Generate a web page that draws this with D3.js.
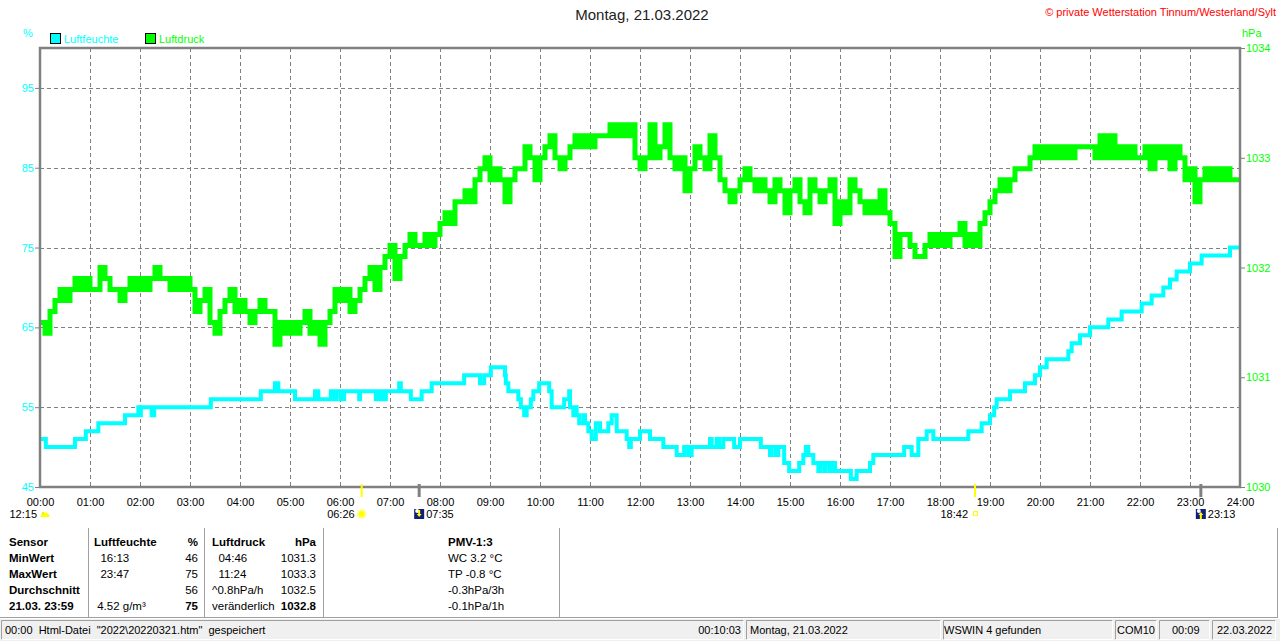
<!DOCTYPE html>
<html>
<head>
<meta charset="utf-8">
<script src="https://cdnjs.cloudflare.com/ajax/libs/d3/7.8.5/d3.min.js"></script>
<style>
	body { margin: 0 ; background: #fff ; }
	svg { display: block ; font-family: "Liberation Sans", Arial, sans-serif ; }
	.cell { white-space: pre ; }
</style>
</head>
<body>
<svg id="canvas"></svg>
<script>
	// Luftfeuchte (%), change points: minute of day -> value
	const humTime = [
		0, 7, 42, 55, 70, 102, 118, 120, 121, 134, 137, 205, 265, 282, 286, 306, 330, 334, 349, 353,
		356, 361, 365, 383, 384, 403, 406, 408, 410, 413, 415, 431, 433, 445, 458, 470, 509, 528, 533, 541,
		558, 559, 562, 574, 577, 581, 584, 589, 592, 599, 611, 614, 629, 635, 636, 640, 642, 644, 647, 652,
		654, 658, 662, 667, 672, 682, 686, 692, 704, 707, 709, 720, 732, 748, 764, 773, 778, 782, 804, 806,
		812, 815, 820, 833, 840, 865, 876, 878, 883, 886, 893, 899, 911, 916, 919, 922, 928, 934, 936, 941,
		943, 948, 950, 954, 973, 980, 996, 1000, 1037, 1046, 1054, 1064, 1072, 1114, 1130, 1140, 1145, 1148, 1164, 1182,
		1194, 1200, 1208, 1234, 1238, 1248, 1260, 1282, 1298, 1322, 1334, 1348, 1356, 1364, 1380, 1394, 1428, 1440
	] ;
	const humValue = [
		51, 50, 51, 52, 53, 54, 55, 54, 55, 54, 55, 56, 57, 58, 57, 56, 57, 56, 57, 56,
		57, 56, 57, 56, 57, 56, 57, 56, 57, 56, 57, 58, 57, 56, 57, 58, 59, 58, 59, 60,
		59, 58, 57, 56, 55, 54, 55, 56, 57, 58, 57, 55, 56, 57, 55, 54, 55, 54, 53, 54,
		53, 52, 51, 53, 52, 53, 54, 52, 51, 50, 51, 52, 51, 50, 49, 50, 49, 50, 51, 50,
		51, 50, 51, 50, 51, 50, 49, 50, 49, 50, 48, 47, 48, 49, 50, 49, 48, 47, 48, 47,
		48, 47, 48, 47, 46, 47, 48, 49, 50, 49, 51, 52, 51, 52, 53, 54, 55, 56, 57, 58,
		59, 60, 61, 62, 63, 64, 65, 66, 67, 68, 69, 70, 71, 72, 73, 74, 75, 75
	] ;

	// Luftdruck (hPa), one reading every 6 minutes, one row per hour
	const pressStep = 6 ;
	const pressValue = [
		1031.5, 1031.4, 1031.6, 1031.7, 1031.8, 1031.7, 1031.8, 1031.9, 1031.8, 1031.9,
		1031.8, 1031.8, 1032.0, 1031.9, 1031.8, 1031.8, 1031.7, 1031.8, 1031.9, 1031.8,
		1031.9, 1031.8, 1031.9, 1032.0, 1031.9, 1031.9, 1031.8, 1031.9, 1031.8, 1031.9,
		1031.8, 1031.6, 1031.7, 1031.8, 1031.5, 1031.4, 1031.6, 1031.7, 1031.8, 1031.6,
		1031.7, 1031.6, 1031.5, 1031.6, 1031.7, 1031.6, 1031.6, 1031.3, 1031.5, 1031.4,
		1031.5, 1031.4, 1031.5, 1031.6, 1031.4, 1031.5, 1031.3, 1031.5, 1031.6, 1031.8,
		1031.7, 1031.8, 1031.6, 1031.7, 1031.8, 1031.9, 1032.0, 1031.8, 1032.0, 1032.1,
		1032.2, 1031.9, 1032.1, 1032.2, 1032.3, 1032.2, 1032.2, 1032.3, 1032.2, 1032.3,
		1032.4, 1032.5, 1032.4, 1032.6, 1032.6, 1032.7, 1032.6, 1032.8, 1032.9, 1033.0,
		1032.8, 1032.9, 1032.8, 1032.6, 1032.8, 1032.9, 1032.9, 1033.1, 1033.0, 1032.8,
		1033.0, 1033.1, 1033.2, 1033.0, 1032.9, 1033.0, 1033.1, 1033.2, 1033.1, 1033.2,
		1033.1, 1033.2, 1033.2, 1033.2, 1033.3, 1033.2, 1033.3, 1033.2, 1033.3, 1033.0,
		1032.9, 1033.0, 1033.3, 1033.0, 1033.1, 1033.3, 1033.0, 1032.9, 1033.0, 1032.7,
		1032.9, 1033.1, 1033.0, 1032.9, 1033.2, 1033.0, 1032.8, 1032.7, 1032.6, 1032.7,
		1032.8, 1032.9, 1032.8, 1032.7, 1032.8, 1032.7, 1032.6, 1032.8, 1032.7, 1032.5,
		1032.7, 1032.8, 1032.6, 1032.5, 1032.8, 1032.7, 1032.6, 1032.7, 1032.8, 1032.4,
		1032.6, 1032.5, 1032.8, 1032.7, 1032.6, 1032.5, 1032.6, 1032.5, 1032.7, 1032.5,
		1032.4, 1032.1, 1032.3, 1032.3, 1032.2, 1032.1, 1032.1, 1032.2, 1032.3, 1032.2,
		1032.3, 1032.2, 1032.3, 1032.3, 1032.4, 1032.2, 1032.3, 1032.2, 1032.4, 1032.5,
		1032.6, 1032.7, 1032.8, 1032.7, 1032.8, 1032.9, 1032.9, 1032.9, 1033.0, 1033.1,
		1033.0, 1033.1, 1033.0, 1033.1, 1033.0, 1033.1, 1033.0, 1033.1, 1033.1, 1033.1,
		1033.1, 1033.0, 1033.2, 1033.0, 1033.2, 1033.0, 1033.1, 1033.0, 1033.1, 1033.0,
		1033.0, 1033.1, 1032.9, 1033.1, 1033.0, 1033.1, 1032.9, 1033.1, 1033.0, 1032.8,
		1032.9, 1032.6, 1032.8, 1032.9, 1032.8, 1032.9, 1032.8, 1032.9, 1032.8, 1032.8,
		1032.8
	] ;

	const hourLabels = d3.range( 0, 25 ).map( h => ( h < 10 ? "0" : "" ) + h + ":00" ) ;
	const humTicks = [ 45, 55, 65, 75, 85, 95 ] ;
	const pressTicks = [ 1030, 1031, 1032, 1033, 1034 ] ;

	// sun / moon times below the axis
	const eventTimes = [ "12:15", "06:26", "07:35", "18:42", "23:13" ] ;
	const eventKinds = [ "moonphase", "sunrise", "moonset", "sunset", "moonrise" ] ;

	const tableRows = [
		[ "Sensor", "Luftfeuchte", "%", "Luftdruck", "hPa", "PMV-1:3" ],
		[ "MinWert", "  16:13", "46", "  04:46", "1031.3", "WC 3.2 °C" ],
		[ "MaxWert", "  23:47", "75", "  11:24", "1033.3", "TP -0.8 °C" ],
		[ "Durchschnitt", "", "56", "^0.8hPa/h", "1032.5", "-0.3hPa/3h" ],
		[ "21.03. 23:59", " 4.52 g/m³", "75", "veränderlich", "1032.8", "-0.1hPa/1h" ]
	] ;

	const statusTexts = [ "00:00  Html-Datei  \"2022\\20220321.htm\"  gespeichert", "00:10:03", "Montag, 21.03.2022", "WSWIN 4 gefunden", "COM10", "00:09", "22.03.2022" ] ;

	let geom = { width: 1280, height: 641, left: 40, right: 1240, top: 48, bottom: 487 } ;
	let colors = { hum: "#00ffff", press: "#00ff00", grid: "#808080", frame: "#808080" } ;

	let toMin = s => +s.slice( 0, 2 ) * 60 + +s.slice( 3, 5 ) ;

	let scales = {
		x: d3.scaleLinear().domain( [ 0, 1440 ] ).range( [ geom.left, geom.right ] ),
		hum: d3.scaleLinear().domain( [ 45, 100 ] ).range( [ geom.bottom, geom.top ] ),
		press: d3.scaleLinear().domain( [ 1030, 1034 ] ).range( [ geom.bottom, geom.top ] )
	} ;

	let svg = d3.select( "svg" )
		.attr( "width", geom.width )
		.attr( "height", geom.height ) ;

	// title + header texts
	svg.append( "text" )
		.attr( "x", 642 ).attr( "y", 20 )
		.attr( "text-anchor", "middle" )
		.attr( "font-size", 15 ).attr( "fill", "#222" )
		.text( "Montag, 21.03.2022" ) ;
	svg.append( "text" )
		.attr( "x", 1276 ).attr( "y", 16 )
		.attr( "text-anchor", "end" )
		.attr( "font-size", 11 ).attr( "fill", "#ff0000" )
		.text( "© private Wetterstation Tinnum/Westerland/Sylt" ) ;
	svg.append( "text" )
		.attr( "x", 23 ).attr( "y", 37 )
		.attr( "font-size", 11 ).attr( "fill", colors.hum )
		.text( "%" ) ;
	svg.append( "text" )
		.attr( "x", 1242 ).attr( "y", 37 )
		.attr( "font-size", 11 ).attr( "fill", colors.press )
		.text( "hPa" ) ;

	let legend = [ { name: "Luftfeuchte", color: colors.hum, x: 50 }, { name: "Luftdruck", color: colors.press, x: 145 } ] ;
	let lg = svg.selectAll( "g.legend" ).data( legend ).enter().append( "g" )
		.attr( "transform", d => "translate(" + d.x + ",33)" ) ;
	lg.append( "rect" )
		.attr( "x", 0.5 ).attr( "y", 0.5 ).attr( "width", 10 ).attr( "height", 10 )
		.attr( "fill", d => d.color ).attr( "stroke", "#000" ) ;
	lg.append( "text" )
		.attr( "x", 14 ).attr( "y", 9.5 )
		.attr( "font-size", 11 ).attr( "fill", d => d.color )
		.text( d => d.name ) ;

	// grid
	let grid = svg.append( "g" )
		.attr( "stroke", colors.grid )
		.attr( "stroke-width", 1 )
		.attr( "stroke-dasharray", "4,3" ) ;
	grid.selectAll( "line.h" ).data( humTicks.slice( 1 ) ).enter().append( "line" )
		.attr( "x1", geom.left ).attr( "x2", geom.right )
		.attr( "y1", d => Math.round( scales.hum( d ) ) + 0.5 )
		.attr( "y2", d => Math.round( scales.hum( d ) ) + 0.5 ) ;
	grid.selectAll( "line.v" ).data( d3.range( 1, 24 ) ).enter().append( "line" )
		.attr( "x1", d => scales.x( d * 60 ) + 0.5 ).attr( "x2", d => scales.x( d * 60 ) + 0.5 )
		.attr( "y1", geom.top ).attr( "y2", geom.bottom ) ;

	// series
	let pressData = pressValue.map( ( v, i ) => ( { t: i * pressStep, v: v } ) ) ;
	let humData = humTime.map( ( t, i ) => ( { t: t, v: humValue[ i ] } ) ) ;

	svg.append( "path" )
		.attr( "fill", "none" )
		.attr( "stroke", colors.press )
		.attr( "stroke-width", 5 )
		.attr( "d", d3.line().curve( d3.curveStepAfter )
			.x( d => scales.x( d.t ) ).y( d => scales.press( d.v ) )( pressData ) ) ;
	svg.append( "path" )
		.attr( "fill", "none" )
		.attr( "stroke", colors.hum )
		.attr( "stroke-width", 4 )
		.attr( "d", d3.line().curve( d3.curveStepAfter )
			.x( d => scales.x( d.t ) ).y( d => scales.hum( d.v ) )( humData ) ) ;

	// frame
	svg.append( "rect" )
		.attr( "x", geom.left ).attr( "y", geom.top )
		.attr( "width", geom.right - geom.left ).attr( "height", geom.bottom - geom.top )
		.attr( "fill", "none" ).attr( "stroke", colors.frame ).attr( "stroke-width", 2.5 ) ;

	// axes
	let yl = svg.append( "g" )
		.attr( "transform", "translate(" + geom.left + ",0)" )
		.call( d3.axisLeft( scales.hum ).tickValues( humTicks ).tickSize( 5 ).tickPadding( 1 ) ) ;
	let yr = svg.append( "g" )
		.attr( "transform", "translate(" + geom.right + ",0)" )
		.call( d3.axisRight( scales.press ).tickValues( pressTicks ).tickSize( 5 ).tickPadding( 1 ).tickFormat( d3.format( "d" ) ) ) ;
	let xa = svg.append( "g" )
		.attr( "transform", "translate(0," + geom.bottom + ")" )
		.call( d3.axisBottom( scales.x ).tickValues( d3.range( 0, 1441, 60 ) ).tickSize( 0 ).tickPadding( 11 )
			.tickFormat( ( d, i ) => hourLabels[ i ] ) ) ;
	[ yl, yr, xa ].forEach( g => {
		g.select( ".domain" ).remove() ;
		g.selectAll( "line" ).attr( "stroke", colors.frame ) ;
		g.selectAll( "text" ).attr( "font-family", null ).attr( "font-size", 11 ) ;
	} ) ;
	yl.selectAll( "text" ).attr( "fill", colors.hum ) ;
	yr.selectAll( "text" ).attr( "fill", colors.press ) ;
	xa.selectAll( "text" ).attr( "fill", "#000" ) ;

	// sun / moon markers
	let events = eventTimes.map( ( t, i ) => ( { t: toMin( t ), label: t, kind: eventKinds[ i ] } ) ) ;
	events.filter( e => e.kind != "moonphase" ).forEach( e => {
		let sun = e.kind == "sunrise" || e.kind == "sunset" ;
		svg.append( "line" )
			.attr( "x1", scales.x( e.t ) ).attr( "x2", scales.x( e.t ) )
			.attr( "y1", geom.bottom - 3 ).attr( "y2", geom.bottom + 10 )
			.attr( "stroke", sun ? "#ffff00" : colors.frame )
			.attr( "stroke-width", sun ? 2 : 3 ) ;
	} ) ;
	events.forEach( e => {
		let ex = e.kind == "moonphase" ? geom.left : scales.x( e.t ) ;
		let right = e.kind == "moonset" || e.kind == "moonrise" ;
		let g = svg.append( "g" ).attr( "transform", "translate(" + ex + ",514)" ) ;
		if( e.kind == "moonphase" ) {
			g.append( "path" ).attr( "d", "M0.5,3 A4.5,4.5 0 0 1 9.5,3 Z" ).attr( "fill", "#ffff00" ) ;
			g.append( "circle" ).attr( "cx", 3 ).attr( "cy", -1 ).attr( "r", 1 ).attr( "fill", "#e6e600" ) ;
		} else if( e.kind == "sunrise" ) {
			g.append( "circle" ).attr( "cx", 0 ).attr( "cy", 0 ).attr( "r", 5 ).attr( "fill", "#ffff99" ) ;
			g.append( "circle" ).attr( "cx", 0 ).attr( "cy", 0 ).attr( "r", 3 ).attr( "fill", "#ffff00" ) ;
		} else if( e.kind == "sunset" ) {
			g.append( "rect" ).attr( "x", -1.5 ).attr( "y", -2.5 ).attr( "width", 4 ).attr( "height", 4 )
				.attr( "fill", "none" ).attr( "stroke", "#ffff00" ) ;
		} else {
			g.append( "rect" ).attr( "x", -5 ).attr( "y", -5 ).attr( "width", 10 ).attr( "height", 10 ).attr( "fill", "#10207a" ) ;
			g.append( "circle" ).attr( "cx", -2 ).attr( "cy", -3 ).attr( "r", 2 ).attr( "fill", "#ffffff" ) ;
			let up = e.kind == "moonrise" ;
			g.append( "path" )
				.attr( "d", up ? "M0,-2 L-2.5,1 L-1,1 L-1,5 L1,5 L1,1 L2.5,1 Z" : "M0,3 L-2.5,0 L-1,0 L-1,-4 L1,-4 L1,0 L2.5,0 Z" )
				.attr( "fill", "#ffff00" ) ;
		}
		g.append( "text" )
			.attr( "x", e.kind == "moonphase" ? -3 : ( right ? 7 : -7 ) )
			.attr( "y", 4 )
			.attr( "text-anchor", right ? "start" : "end" )
			.attr( "font-size", 11 ).attr( "fill", "#000" )
			.text( e.label ) ;
	} ) ;

	// table
	let cols = [
		{ x: 9, anchor: "start" }, { x: 94, anchor: "start" }, { x: 198, anchor: "end" },
		{ x: 212, anchor: "start" }, { x: 316, anchor: "end" }, { x: 448, anchor: "start" }
	] ;
	let table = svg.append( "g" ) ;
	tableRows.forEach( ( row, r ) => {
		row.forEach( ( cell, c ) => {
			let bold = r == 0 || c == 0 || ( r == 4 && ( c == 2 || c == 4 ) ) ;
			table.append( "text" )
				.attr( "class", "cell" )
				.attr( "x", cols[ c ].x ).attr( "y", 546 + r * 16 )
				.attr( "text-anchor", cols[ c ].anchor )
				.attr( "font-size", 11.5 )
				.attr( "font-weight", bold ? "bold" : "normal" )
				.attr( "fill", "#000" )
				.text( cell ) ;
		} ) ;
	} ) ;
	table.selectAll( "line.sep" ).data( [ 88, 204, 323, 559, 1277 ] ).enter().append( "line" )
		.attr( "x1", d => d + 0.5 ).attr( "x2", d => d + 0.5 )
		.attr( "y1", 528 ).attr( "y2", 617 )
		.attr( "stroke", "#a0a0a0" ).attr( "stroke-width", 1 ) ;
	table.append( "line" )
		.attr( "x1", 0 ).attr( "x2", 1278 ).attr( "y1", 617.5 ).attr( "y2", 617.5 )
		.attr( "stroke", "#a0a0a0" ) ;

	// status bar
	svg.append( "rect" )
		.attr( "x", 0 ).attr( "y", 619 ).attr( "width", 1280 ).attr( "height", 22 )
		.attr( "fill", "#f0f0f0" ) ;
	let panels = [ [ 1, 744 ], [ 746, 941 ], [ 943, 1113 ], [ 1115, 1157 ], [ 1159, 1210 ], [ 1212, 1276 ] ] ;
	panels.forEach( p => {
		svg.append( "path" )
			.attr( "d", "M" + ( p[0] + 0.5 ) + ",639.5 V620.5 H" + ( p[1] - 0.5 ) )
			.attr( "fill", "none" ).attr( "stroke", "#a0a0a0" ) ;
		svg.append( "path" )
			.attr( "d", "M" + ( p[1] - 0.5 ) + ",620.5 V639.5 H" + ( p[0] + 0.5 ) )
			.attr( "fill", "none" ).attr( "stroke", "#ffffff" ) ;
	} ) ;
	let statusPos = [
		{ x: 5, anchor: "start" }, { x: 741, anchor: "end" }, { x: 750, anchor: "start" },
		{ x: 944, anchor: "start" }, { x: 1117, anchor: "start" }, { x: 1172, anchor: "start" }, { x: 1217, anchor: "start" }
	] ;
	statusTexts.forEach( ( t, i ) => {
		svg.append( "text" )
			.attr( "class", "cell" )
			.attr( "x", statusPos[ i ].x ).attr( "y", 634 )
			.attr( "text-anchor", statusPos[ i ].anchor )
			.attr( "font-size", 11 ).attr( "fill", "#000" )
			.text( t ) ;
	} ) ;
</script>
</body>
</html>
